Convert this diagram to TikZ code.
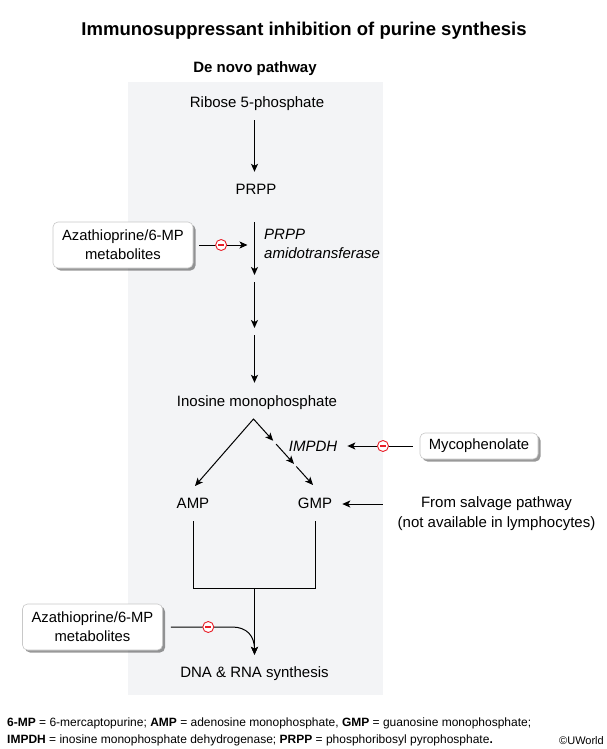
\documentclass[tikz,border=0pt]{standalone}
\usepackage{fontspec}
\setmainfont{Liberation Sans}
\usetikzlibrary{arrows.meta,shadows,calc}
\definecolor{bgpanel}{RGB}{243,244,246}
\definecolor{boxline}{RGB}{200,200,200}
\definecolor{inhred}{RGB}{232,30,40}
\begin{document}
\begin{tikzpicture}[x=1pt,y=-1pt,
  lbl/.style={inner sep=0pt, text height=11pt, text depth=3pt, font=\fontsize{15}{18}\selectfont},
  box/.style={draw=boxline, line width=0.6pt, fill=white, rounded corners=5pt, align=center,
    font=\fontsize{14.8}{19}\selectfont, minimum width=140pt, minimum height=46pt, inner sep=0pt,
    drop shadow={shadow xshift=2.5pt, shadow yshift=-2.5pt, fill=black, opacity=0.4}},
  arr/.style={-{Stealth[length=8pt,width=7pt,inset=2pt]}, line width=1pt},
  arrboth/.style={{Stealth[length=8pt,width=7pt,inset=2pt]}-{Stealth[length=8pt,width=7pt,inset=2pt]}, line width=1pt},
  plain/.style={line width=1pt},
  inhib/.style={circle, draw=inhred, fill=white, line width=0.9pt, minimum size=11pt, inner sep=0pt,
    path picture={\draw[inhred, line width=1.1pt, -, shorten <=0pt, shorten >=0pt] ($(path picture bounding box.center)+(-3,0)$) -- ($(path picture bounding box.center)+(3,0)$);}}
]
\useasboundingbox (0,0) rectangle (607,749);
\fill[bgpanel] (128,82) rectangle (383,695);

\node[font=\bfseries\fontsize{18.5}{22}\selectfont, inner sep=0pt] (title) at (304,31) {Immunosuppressant inhibition of purine synthesis};
\node[font=\bfseries\fontsize{15}{18}\selectfont, inner sep=0pt] (denovo) at (255,69) {De novo pathway};

\node[lbl] (ribose) at (257,103) {Ribose 5-phosphate};
\node[lbl] (prpp) at (256,190) {PRPP};
\node[lbl] (imp) at (257,402) {Inosine monophosphate};
\node[lbl] (amp) at (193,504) {AMP};
\node[lbl] (gmp) at (315,504) {GMP};
\node[lbl] (dna) at (254.5,673) {DNA \& RNA synthesis};

\coordinate (m1) at (254.5,275);
\coordinate (m2) at (254.5,328);

\draw[arr, shorten <=10pt, shorten >=11pt] (ribose.south -| dna) -- (prpp.north -| dna);
\draw[arr, shorten <=25pt] (prpp.south -| dna) -- (m1);
\draw[arr, shorten <=7pt] (m1) -- (m2);
\draw[arr, shorten <=7pt, shorten >=12pt] (m2) -- (imp.north -| dna);

\node[font=\itshape\fontsize{15}{19}\selectfont, align=left, anchor=west, inner sep=0pt] (prppat) at (264,244) {PRPP\\amidotransferase};

\node[box] (aza1) at (123,245) {Azathioprine/6-MP\\metabolites};
\draw[arr, shorten <=6pt, shorten >=7pt] (aza1.east) -- node[inhib, pos=0.455]{} (aza1.east -| dna);

\node[lbl, font=\itshape\fontsize{15}{18}\selectfont] (impdh) at (313,447) {IMPDH};
\node[box, minimum width=118pt, minimum height=26pt] (myco) at (479,446) {Mycophenolate};
\draw[arr, shorten <=7pt, shorten >=10pt] (myco.west) -- node[inhib, pos=0.446]{} (myco.west -| impdh.east);

\coordinate (apex) at (253.5,419);
\coordinate (ampin) at (195,486);
\coordinate (gmpin) at (313,485);
\draw[arrboth] (ampin) -- (apex) -- ($(apex)!0.33!(gmpin)$);
\draw[arr] ($(apex)!0.38!(gmpin)$) -- ($(apex)!0.68!(gmpin)$);
\draw[arr] ($(apex)!0.72!(gmpin)$) -- (gmpin);

\node[font=\fontsize{15}{20}\selectfont, align=center, inner sep=0pt] (salv) at (496.5,514) {From salvage pathway\\(not available in lymphocytes)};
\draw[arr, shorten <=15pt, shorten >=10pt] (gmp.east -| salv.west) -- (gmp.east);

\coordinate (join) at (254.5,588);
\draw[plain, shorten <=10pt, shorten >=10pt] (amp.south) -- (amp.south |- join) -- (gmp.south |- join) -- (gmp.south);
\draw[arr, shorten >=11pt] (join) -- (dna.north);

\node[box] (aza2) at (92.5,627) {Azathioprine/6-MP\\metabolites};
\coordinate (bendpt) at (232,627);
\coordinate (dnatip) at ($(dna.north)+(0,-11)$);
\draw[arr, shorten <=8pt] (aza2.east) -- node[inhib, pos=0.657]{} (bendpt) .. controls (247,627) and (254.5,636) .. (dnatip);

\node[anchor=north west, inner sep=0pt, font=\fontsize{12}{17}\selectfont, align=left] (foot) at (7,718) {{\bfseries 6-MP} = 6-mercaptopurine; {\bfseries AMP} = adenosine monophosphate, {\bfseries GMP} = guanosine monophosphate;\\{\bfseries IMPDH} = inosine monophosphate dehydrogenase; {\bfseries PRPP} = phosphoribosyl pyrophosphate{\bfseries .}};
\node[anchor=base east, inner sep=0pt, font=\fontsize{11}{13}\selectfont] (uw) at (604,744) {©UWorld};
\end{tikzpicture}
\end{document}
